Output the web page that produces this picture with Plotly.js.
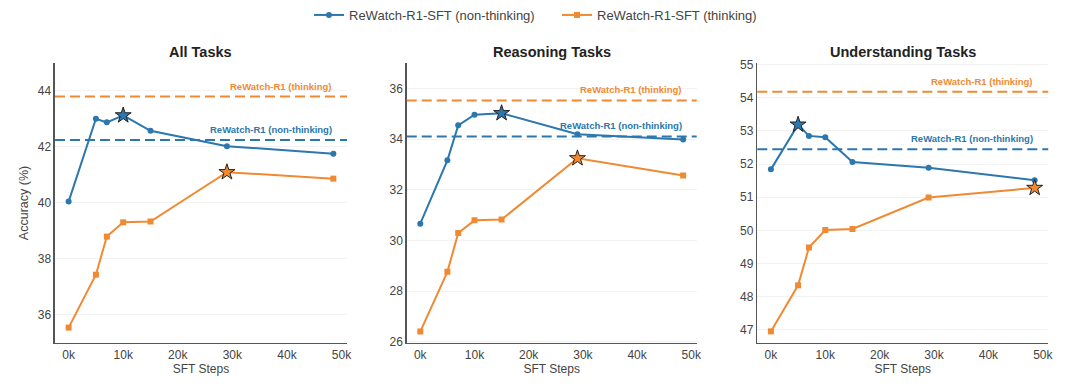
<!DOCTYPE html>
<html>
<head>
<meta charset="utf-8">
<script src="https://cdn.plot.ly/plotly-3.0.1.min.js"></script>
<style>html,body{margin:0;padding:0;background:#fff;}#chart{width:1080px;height:386px;}</style>
</head>
<body>
<div id="chart"></div>
<script>
// ---- data ----
const steps = [0, 5000, 7000, 10000, 15000, 29000, 48500];
const panelTitles = ["All Tasks", "Reasoning Tasks", "Understanding Tasks"];
const allNonThinking = [40.05, 43.01, 42.88, 43.13, 42.58, 42.03, 41.76];
const allThinking = [35.55, 37.44, 38.80, 39.31, 39.34, 41.10, 40.87];
const reasonNonThinking = [30.66, 33.16, 34.54, 34.96, 35.02, 34.19, 33.98];
const reasonThinking = [26.40, 28.76, 30.29, 30.79, 30.82, 33.24, 32.56];
const underNonThinking = [51.84, 53.19, 52.85, 52.81, 52.06, 51.89, 51.51];
const underThinking = [46.95, 48.34, 49.48, 50.01, 50.04, 50.99, 51.28];
const refNonThinking = [42.25, 34.10, 52.45];
const refThinking = [43.80, 35.52, 54.18];
const bestNonThinkingIdx = [3, 4, 1];
const bestThinkingIdx = [5, 5, 6];
const xTickVals = [0, 10000, 20000, 30000, 40000, 50000];
const xTickText = ["0k", "10k", "20k", "30k", "40k", "50k"];
const seriesNames = ["ReWatch-R1-SFT (non-thinking)", "ReWatch-R1-SFT (thinking)"];
const refLabels = ["ReWatch-R1 (non-thinking)", "ReWatch-R1 (thinking)"];

// ---- style ----
const BLUE = "#2b77ae";
const ORANGE = "#f08a32";
const FONT = "Liberation Sans, Arial, sans-serif";
const nonThinking = [allNonThinking, reasonNonThinking, underNonThinking];
const thinking = [allThinking, reasonThinking, underThinking];
const yRanges = [[35, 45], [25.95, 37], [46.6, 55.05]];
const yDticks = [2, 2, 1];
const xDomains = [[0.0509, 0.3213], [0.3766, 0.6451], [0.7012, 0.9706]];
const yDomain = [0.1114, 0.8368];

const traces = [];
const shapes = [];
const annotations = [];
const layout = {
  width: 1080, height: 386,
  margin: {l: 0, r: 0, t: 0, b: 0},
  paper_bgcolor: "#fff", plot_bgcolor: "#fff",
  font: {family: FONT, color: "#444", size: 12},
  showlegend: true,
  legend: {orientation: "h", x: 309 / 1080, xanchor: "left", y: 1.0, yanchor: "top",
           font: {size: 13, color: "#444"}, tracegroupgap: 0,
           entrywidth: 203, entrywidthmode: "pixels"},
  shapes: shapes, annotations: annotations
};

for (let i = 0; i < 3; i++) {
  const sfx = i === 0 ? "" : String(i + 1);
  const xa = "x" + sfx, ya = "y" + sfx;
  layout["xaxis" + sfx] = {
    domain: xDomains[i], anchor: ya, range: [-2500, 51000],
    tickvals: xTickVals, ticktext: xTickText, showgrid: false, zeroline: false,
    showline: true, linecolor: "#555", linewidth: 1.5, ticks: "", ticklen: 0,
    tickfont: {size: 12, color: "#444"},
    title: {text: "SFT Steps", font: {size: 12, color: "#444"}, standoff: 1}
  };
  layout["yaxis" + sfx] = {
    domain: yDomain, anchor: xa, range: yRanges[i], dtick: yDticks[i], tick0: 0,
    showgrid: true, gridcolor: "#f2f2f2", gridwidth: 1, zeroline: false,
    showline: true, linecolor: "#555", linewidth: 1.5, ticks: "",
    tickfont: {size: 12, color: "#444"},
    title: i === 0 ? {text: "Accuracy (%)", font: {size: 12.5, color: "#444"}, standoff: 6} : {text: ""}
  };
  const xd = xDomains[i];
  annotations.push({
    text: "<b>" + panelTitles[i] + "</b>", xref: "paper", yref: "paper",
    x: (xd[0] + xd[1]) / 2, y: 1 - 52 / 386, xanchor: "center", yanchor: "middle",
    showarrow: false, font: {size: 14.5, color: "#222", family: FONT}
  });
  // reference lines
  shapes.push({type: "line", xref: xa + " domain", yref: ya, x0: 0, x1: 1,
    y0: refThinking[i], y1: refThinking[i], line: {color: ORANGE, width: 2, dash: "10px,5px"}});
  shapes.push({type: "line", xref: xa + " domain", yref: ya, x0: 0, x1: 1,
    y0: refNonThinking[i], y1: refNonThinking[i], line: {color: BLUE, width: 2, dash: "10px,5px"}});
  annotations.push({text: "<b>" + refLabels[1] + "</b>", xref: xa + " domain", yref: ya,
    x: 0.955, y: refThinking[i], xanchor: "right", yanchor: "bottom", yshift: 3,
    showarrow: false, font: {size: 9.5, color: ORANGE, family: FONT}});
  annotations.push({text: "<b>" + refLabels[0] + "</b>", xref: xa + " domain", yref: ya,
    x: 0.955, y: refNonThinking[i], xanchor: "right", yanchor: "bottom", yshift: 3,
    showarrow: false, font: {size: 9.5, color: BLUE, family: FONT}});
  // series
  traces.push({x: steps, y: nonThinking[i], xaxis: xa, yaxis: ya, type: "scatter",
    mode: "lines+markers", name: seriesNames[0], legendgroup: "nt", showlegend: i === 0,
    line: {color: BLUE, width: 2}, marker: {symbol: "circle", size: 6, color: BLUE}});
  traces.push({x: steps, y: thinking[i], xaxis: xa, yaxis: ya, type: "scatter",
    mode: "lines+markers", name: seriesNames[1], legendgroup: "t", showlegend: i === 0,
    line: {color: ORANGE, width: 2}, marker: {symbol: "square", size: 6, color: ORANGE}});
  const bn = bestNonThinkingIdx[i], bt = bestThinkingIdx[i];
  traces.push({x: [steps[bn]], y: [nonThinking[i][bn]], xaxis: xa, yaxis: ya, type: "scatter",
    mode: "markers", showlegend: false, hoverinfo: "skip",
    marker: {symbol: "star", size: 12, color: BLUE, line: {color: "#222", width: 1}}});
  traces.push({x: [steps[bt]], y: [thinking[i][bt]], xaxis: xa, yaxis: ya, type: "scatter",
    mode: "markers", showlegend: false, hoverinfo: "skip",
    marker: {symbol: "star", size: 12, color: ORANGE, line: {color: "#222", width: 1}}});
}

Plotly.newPlot("chart", traces, layout, {staticPlot: true, displayModeBar: false});
</script>
</body>
</html>
